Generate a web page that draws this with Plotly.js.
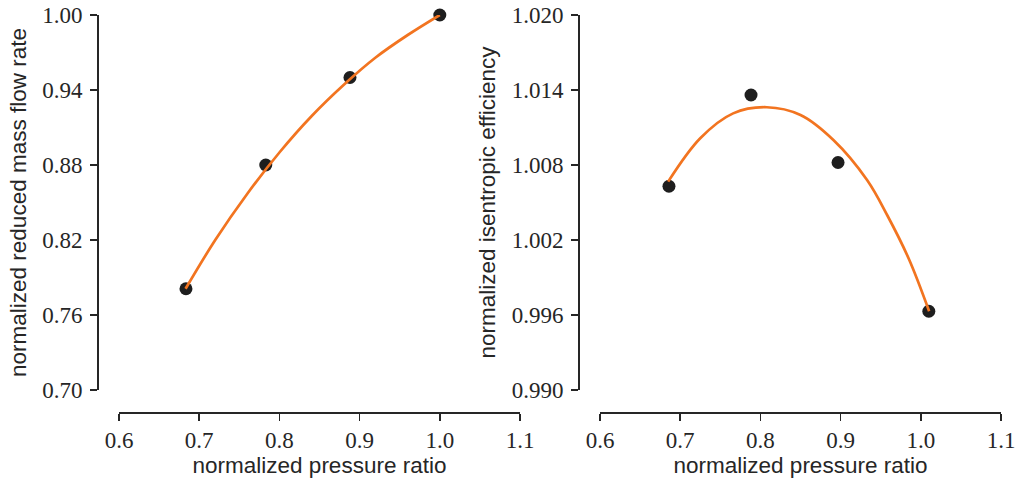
<!DOCTYPE html>
<html><head><meta charset="utf-8">
<script src="https://cdn.plot.ly/plotly-3.0.1.min.js"></script>
<style>html,body{margin:0;padding:0;background:#fff}#chart{width:1019px;height:484px}</style>
</head><body><div id="chart"></div>
<script>
// Left panel: normalized reduced mass flow rate
const massX = [0.6835, 0.783, 0.888, 1.000];
const massY = [0.781, 0.880, 0.950, 1.000];
const massFitX = [0.683, 0.72, 0.76, 0.80, 0.84, 0.88, 0.92, 0.96, 1.00];
const massFitY = [0.781, 0.820, 0.857, 0.890, 0.919, 0.944, 0.966, 0.984, 1.000];
// Right panel: normalized isentropic efficiency
const effX = [0.686, 0.7883, 0.8968, 1.010];
const effY = [1.0063, 1.0136, 1.0082, 0.9963];
const effFitX = [0.685, 0.725, 0.766, 0.808, 0.850, 0.891, 0.933, 0.958, 0.985, 1.0104];
const effFitY = [1.00667, 1.01014, 1.01213, 1.01262, 1.0120, 1.0100, 1.0068, 1.0040, 1.0005, 0.9963];
// Axis titles
const xTitle = 'normalized pressure ratio';
const yTitleLeft = 'normalized reduced mass flow rate';
const yTitleRight = 'normalized isentropic efficiency';

const ink = '#262626';
const orange = '#F27420';
const dot = {color: '#1e1e1e', size: 13};

const traces = [
  {x: massX, y: massY, mode: 'markers', marker: dot, xaxis: 'x', yaxis: 'y', cliponaxis: false},
  {x: massFitX, y: massFitY, mode: 'lines', line: {color: orange, width: 2.7, shape: 'spline', smoothing: 1}, xaxis: 'x', yaxis: 'y', cliponaxis: false},
  {x: effX, y: effY, mode: 'markers', marker: dot, xaxis: 'x2', yaxis: 'y2', cliponaxis: false},
  {x: effFitX, y: effFitY, mode: 'lines', line: {color: orange, width: 2.7, shape: 'spline', smoothing: 1}, xaxis: 'x2', yaxis: 'y2', cliponaxis: false}
];

const tickFont = {family: 'Liberation Serif, serif', size: 23, color: ink};
const titleFont = {family: 'Liberation Sans, Arial, sans-serif', size: 22.5, color: ink};
const common = {showline: true, linecolor: ink, linewidth: 1.5, ticks: 'outside', ticklen: 7, tickwidth: 1.5, tickcolor: ink,
  showgrid: false, zeroline: false, tickfont: tickFont, automargin: false, fixedrange: true};

const xa = (dom) => Object.assign({}, common, {domain: dom, range: [0.6, 1.1], anchor: 'free', position: 1 - 412/484,
  tick0: 0.6, dtick: 0.1, tickformat: '.1f', title: {text: xTitle, font: titleFont, standoff: 3}});

const layout = {
  width: 1019, height: 484,
  margin: {l: 0, r: 0, t: 0, b: 0},
  paper_bgcolor: '#fff', plot_bgcolor: '#fff',
  showlegend: false,
  xaxis: xa([119/1019, 520/1019]),
  xaxis2: xa([600/1019, 1001/1019]),
  yaxis: Object.assign({}, common, {domain: [1 - 390/484, 1 - 15/484], range: [0.70, 1.00], anchor: 'free', position: 97/1019,
    tick0: 0.70, dtick: 0.06, tickformat: '.2f', ticklabelstandoff: 3, title: {text: yTitleLeft, font: titleFont, standoff: 8}}),
  yaxis2: Object.assign({}, common, {domain: [1 - 390/484, 1 - 15/484], range: [0.990, 1.020], anchor: 'free', position: 578/1019,
    tick0: 0.990, dtick: 0.006, tickformat: '.3f', ticklabelstandoff: 3, title: {text: yTitleRight, font: titleFont, standoff: 8}})
};

Plotly.newPlot('chart', traces, layout, {displayModeBar: false, staticPlot: true});
</script>
</body></html>
